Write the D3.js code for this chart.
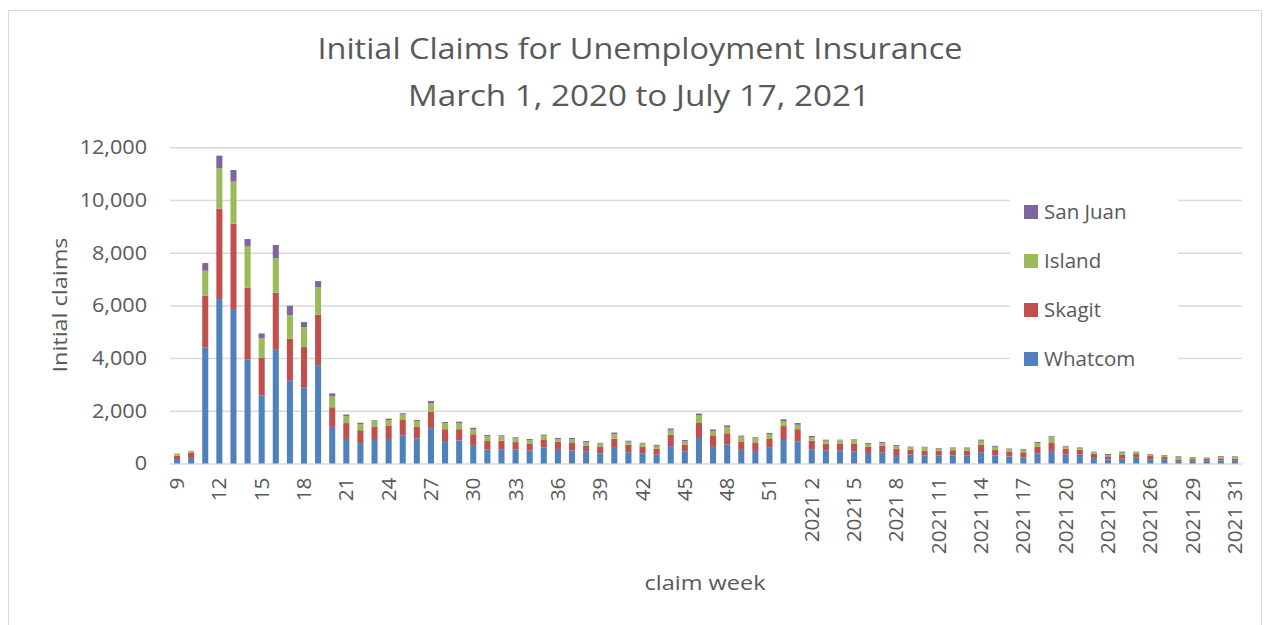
<!DOCTYPE html>
<html><head><meta charset="utf-8">
<script src="https://cdn.jsdelivr.net/npm/d3@7/dist/d3.min.js"></script>
<style>
body{margin:0;background:#fff}
svg{display:block}
text{font-family:"Open Sans",sans-serif;fill:#595959}
</style>
</head><body>
<svg id="chart" width="1268" height="625"></svg>
<script>
const weekLabels = ["9","10","11","12","13","14","15","16","17","18","19","20","21","22","23","24","25","26","27","28","29","30","31","32","33","34","35","36","37","38","39","40","41","42","43","44","45","46","47","48","49","50","51","52",
"2021 1","2021 2","2021 3","2021 4","2021 5","2021 6","2021 7","2021 8","2021 9","2021 10","2021 11","2021 12","2021 13","2021 14","2021 15","2021 16","2021 17","2021 18","2021 19","2021 20","2021 21","2021 22","2021 23","2021 24","2021 25","2021 26","2021 27","2021 28","2021 29","2021 30","2021 30","2021 31"];
const whatcom = [168,206,4405,6240,5861,3949,2582,4316,3139,2886,3734,1390,929,774,929,929,1071,955,1342,851,877,671,529,542,529,490,606,516,490,464,387,593,426,387,348,658,464,968,632,722,516,477,619,929,
839,542,490,503,464,400,426,323,335,310,310,310,310,426,310,271,232,387,477,348,335,206,155,181,219,142,142,65,103,103,116,103];
const skagit = [129,194,1962,3430,3241,2722,1430,2165,1595,1532,1911,745,606,490,477,516,580,451,619,451,426,439,323,323,284,271,310,310,310,219,258,348,284,258,219,439,258,568,439,426,323,323,335,490,
464,323,258,258,297,232,258,232,194,181,168,194,181,284,206,168,194,245,323,219,194,168,116,142,142,142,103,90,65,90,77,77];
const island = [65,65,949,1532,1595,1582,734,1317,899,760,1051,410,258,232,194,206,206,206,322,219,232,181,181,168,142,129,142,103,116,116,116,168,116,116,103,181,116,284,155,232,181,155,168,194,
168,129,116,116,129,103,90,103,103,116,77,77,90,155,116,103,90,142,194,77,77,65,52,90,77,52,52,90,52,26,65,65];
const sanJuan = [10,15,291,481,443,266,190,494,354,190,228,115,65,52,39,52,52,39,90,52,52,65,52,39,39,39,39,39,52,52,26,65,39,26,39,52,52,77,65,65,39,39,39,65,
65,52,39,26,26,39,39,39,13,26,26,26,26,39,39,26,26,39,39,26,13,13,39,39,13,26,26,26,26,13,26,26];
const seriesNames = ["Whatcom","Skagit","Island","San Juan"];
const seriesValues = [whatcom, skagit, island, sanJuan];
const seriesColors = ["#4f81bd","#c0504d","#9bbb59","#8064a2"];
const yTicks = [0,2000,4000,6000,8000,10000,12000];
const titleLines = ["Initial Claims for Unemployment Insurance","March 1, 2020 to July 17, 2021"];
const yTitle = "Initial claims";
const xTitle = "claim week";

const svg = d3.select("#chart");
const L = 170, R = 1242, T = 147.3, B = 463.5;

// chart border
svg.append("rect").attr("x",8.5).attr("y",10.5).attr("width",1253).attr("height",640)
  .attr("fill","none").attr("stroke","#d9d9d9").attr("stroke-width",1);

const rows = weekLabels.map((w,i)=>{
  const r = {i};
  seriesNames.forEach((s,k)=> r[s] = seriesValues[k][i]);
  return r;
});
const stacked = d3.stack().keys(seriesNames)(rows);

const x = d3.scaleBand().domain(d3.range(weekLabels.length)).range([L,R])
  .paddingInner(0.57).paddingOuter(0.285);
const y = d3.scaleLinear().domain([0,12000]).range([B,T]);

function stretch(sel, k){
  sel.each(function(){
    const len = this.getComputedTextLength();
    d3.select(this).attr("textLength",len*k).attr("lengthAdjust","spacingAndGlyphs");
  });
}

// gridlines + y labels
const ya = svg.append("g").attr("transform",`translate(${L},0)`)
  .call(d3.axisLeft(y).tickValues(yTicks).tickFormat(d3.format(",")).tickSize(-(R-L)).tickPadding(23));
ya.select(".domain").remove();
ya.selectAll("line").attr("stroke","#d9d9d9").attr("stroke-width",1.5);
ya.selectAll("text").style("font-size","20px").attr("fill","#595959");
stretch(ya.selectAll("text"),1.08);

// bars
svg.append("g").selectAll("g").data(stacked).join("g")
  .attr("fill",(d,k)=>seriesColors[k])
  .selectAll("rect").data(d=>d).join("rect")
  .attr("x",d=>x(d.data.i)).attr("width",x.bandwidth())
  .attr("y",d=>y(d[1])).attr("height",d=>y(d[0])-y(d[1]));

// x axis labels
const xa = svg.append("g").attr("transform",`translate(0,${B})`)
  .call(d3.axisBottom(x).tickValues(d3.range(0,weekLabels.length,3)).tickFormat(i=>weekLabels[i]).tickSize(0));
xa.select(".domain").remove();
xa.selectAll("text").attr("transform","rotate(-90)").attr("x",-14).attr("y",0).attr("dy","0.35em")
  .style("text-anchor","end").style("font-size","20px").attr("fill","#595959");
stretch(xa.selectAll("text"),1.04);

// titles
function fit(sel, w){ sel.attr("textLength",w).attr("lengthAdjust","spacingAndGlyphs"); return sel; }
fit(svg.append("text").attr("x",640).attr("y",59).attr("text-anchor","middle").style("font-size","30px").text(titleLines[0]),645);
fit(svg.append("text").attr("x",639).attr("y",106).attr("text-anchor","middle").style("font-size","30px").text(titleLines[1]),462);
fit(svg.append("text").attr("transform","translate(67,305) rotate(-90)").attr("text-anchor","middle").style("font-size","20.5px").text(yTitle),135);
fit(svg.append("text").attr("x",705).attr("y",590).attr("text-anchor","middle").style("font-size","20.5px").text(xTitle),121);

// legend
const lg = svg.append("g");
lg.append("rect").attr("x",1010).attr("y",188).attr("width",168).attr("height",195).attr("fill","#fff");
const legendOrder = [3,2,1,0];
const legendY = d3.scalePoint().domain(legendOrder).range([212,359]);
legendOrder.forEach(k=>{
  const cy = legendY(k);
  lg.append("rect").attr("x",1024).attr("y",cy-7).attr("width",14).attr("height",14).attr("fill",seriesColors[k]);
  lg.append("text").attr("x",1044).attr("y",cy).attr("dy","0.35em").style("font-size","20.5px").text(seriesNames[k]);
});
</script>
</body></html>
